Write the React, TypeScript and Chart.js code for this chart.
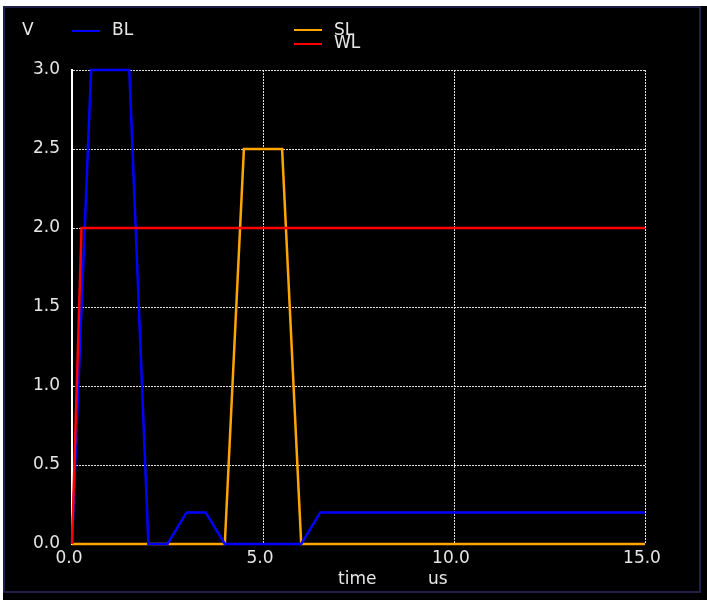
import React, { useEffect, useRef } from "react";
import { Chart, registerables } from "chart.js";

Chart.register(...registerables);

// ---- data ----
const blTime = [0, 0.5, 1.5, 2.0, 2.5, 3.0, 3.5, 4.0, 6.0, 6.5, 15];
const blVolt = [0, 3.0, 3.0, 0, 0, 0.2, 0.2, 0, 0, 0.2, 0.2];

const slTime = [0, 4.0, 4.5, 5.5, 6.0, 15];
const slVolt = [0, 0, 2.5, 2.5, 0, 0];

const wlTime = [0, 0.25, 15];
const wlVolt = [0, 2.0, 2.0];

const xTicks = [0, 5, 10, 15];
const yTicks = [0, 0.5, 1.0, 1.5, 2.0, 2.5, 3.0];

const seriesNames = ["BL", "SL", "WL"];
const seriesColors = ["#0000ff", "#ffa500", "#ff0000"];
const yAxisLabel = "V";
const xAxisLabel = "time";
const xAxisUnit = "us";

const FONT = "'DejaVu Sans', sans-serif";
const TEXT = "#e6e6e6";
const GRID = "#e0e0e0";

const toPoints = (xs: number[], ys: number[]) => xs.map((x, i) => ({ x, y: ys[i] }));

const framePlugin = {
  id: "frame",
  beforeDraw(chart: any) {
    const ctx = chart.ctx;
    ctx.save();
    ctx.fillStyle = "#ffffff";
    ctx.fillRect(0, 0, chart.width, chart.height);
    ctx.fillStyle = "#000000";
    ctx.fillRect(3, 6, chart.width - 3, chart.height - 6);
    ctx.strokeStyle = "#1e1e46";
    ctx.lineWidth = 2;
    ctx.strokeRect(4, 7, 696, 585);
    ctx.restore();
  },
  afterDraw(chart: any) {
    const ctx = chart.ctx;
    ctx.save();
    ctx.font = `17px ${FONT}`;
    ctx.fillStyle = TEXT;
    ctx.textBaseline = "middle";
    ctx.textAlign = "left";
    ctx.fillText(yAxisLabel, 22, 31);

    const legendPos = [
      { lx: 72, ly: 31, tx: 112, ty: 31 },
      { lx: 294, ly: 30, tx: 334, ty: 31 },
      { lx: 294, ly: 44, tx: 334, ty: 44 },
    ];
    seriesNames.forEach((name, i) => {
      const p = legendPos[i];
      ctx.strokeStyle = seriesColors[i];
      ctx.lineWidth = 2;
      ctx.beginPath();
      ctx.moveTo(p.lx, p.ly);
      ctx.lineTo(p.lx + 28, p.ly);
      ctx.stroke();
      ctx.fillStyle = TEXT;
      ctx.fillText(name, p.tx, p.ty);
    });

    ctx.fillText(xAxisLabel, 338, 580);
    ctx.fillText(xAxisUnit, 428, 580);
    ctx.restore();
  },
};

export default function App() {
  const ref = useRef<HTMLCanvasElement | null>(null);

  useEffect(() => {
    if (!ref.current) return;
    const line = (i: number, xs: number[], ys: number[], order: number) => ({
      label: seriesNames[i],
      data: toPoints(xs, ys),
      borderColor: seriesColors[i],
      borderWidth: 2.5,
      pointRadius: 0,
      tension: 0,
      clip: 5,
      order,
    });
    const chart = new Chart(ref.current, {
      type: "line",
      data: {
        datasets: [
          line(0, blTime, blVolt, 1),
          line(1, slTime, slVolt, 2),
          line(2, wlTime, wlVolt, 0),
        ],
      },
      options: {
        animation: false,
        responsive: false,
        devicePixelRatio: 1,
        layout: { padding: { top: 70, right: 62, left: 0, bottom: 0 } },
        plugins: {
          legend: { display: false },
          tooltip: { enabled: false },
          title: { display: false },
        },
        scales: {
          x: {
            type: "linear",
            min: 0,
            max: 15,
            afterBuildTicks: (s: any) => {
              s.ticks = xTicks.map((v) => ({ value: v }));
            },
            afterFit: (s: any) => {
              s.height = 56;
            },
            ticks: {
              color: TEXT,
              font: { family: FONT, size: 17 },
              padding: 4,
              labelOffset: -3,
              maxRotation: 0,
              callback: (v: any) => Number(v).toFixed(1),
            },
            grid: {
              color: GRID,
              lineWidth: 1,
              drawTicks: false,
            },
            border: { display: false, dash: [2, 1] },
          },
          y: {
            type: "linear",
            min: 0,
            max: 3,
            afterBuildTicks: (s: any) => {
              s.ticks = yTicks.map((v) => ({ value: v }));
            },
            afterFit: (s: any) => {
              s.width = 72;
            },
            ticks: {
              color: TEXT,
              font: { family: FONT, size: 17 },
              padding: 12,
              callback: (v: any) => Number(v).toFixed(1),
            },
            grid: {
              color: GRID,
              lineWidth: 1,
              drawTicks: false,
            },
            border: { display: true, color: "#ffffff", width: 2, dash: [2, 1] },
          },
        },
      },
      plugins: [framePlugin],
    } as any);
    return () => chart.destroy();
  }, []);

  return (
    <div style={{ position: "fixed", left: 0, top: 0, width: 707, height: 600 }}>
      <canvas ref={ref} width={707} height={600} style={{ width: 707, height: 600, display: "block" }} />
    </div>
  );
}
